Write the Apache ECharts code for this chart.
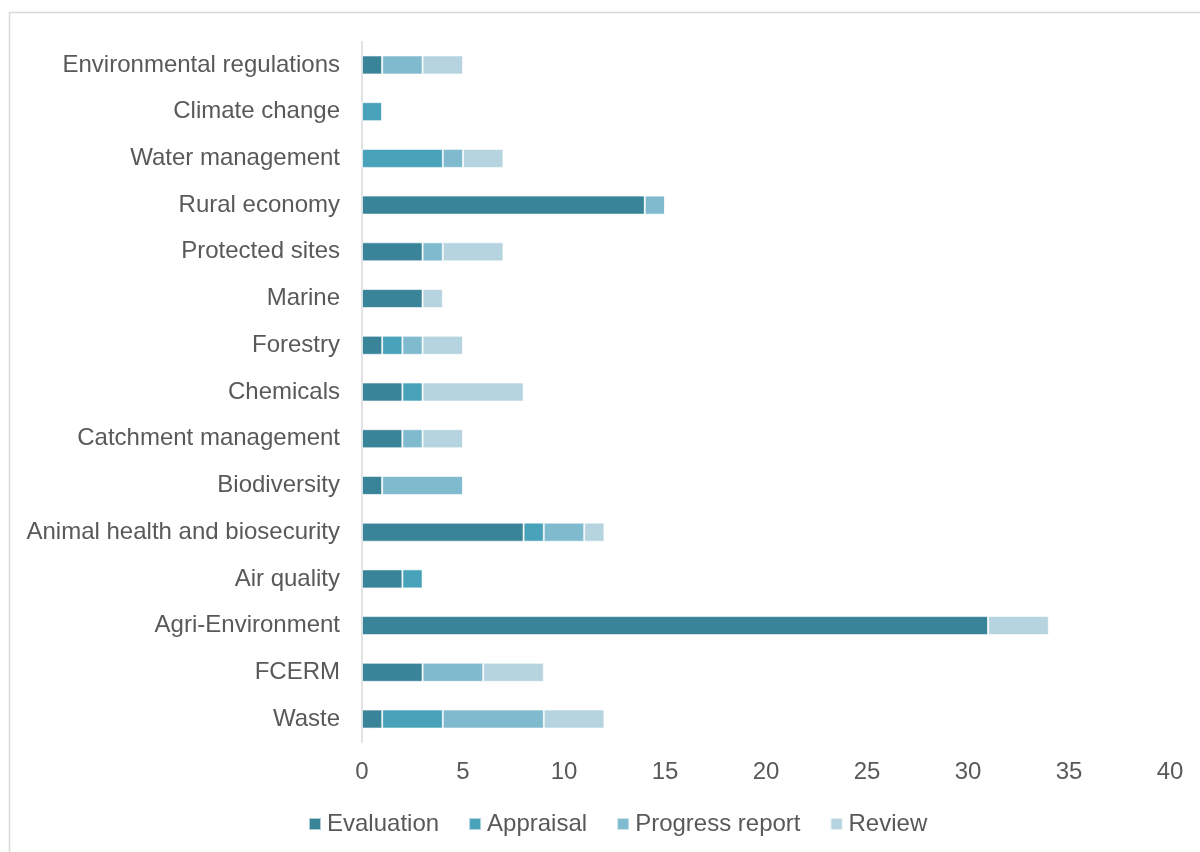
<!DOCTYPE html>
<html>
<head>
<meta charset="utf-8">
<script src="https://cdn.jsdelivr.net/npm/echarts@6/dist/echarts.min.js"></script>
<style>html,body{margin:0;padding:0;background:#fff}#c{width:1200px;height:852px}</style>
</head>
<body>
<div id="c"></div>
<script>
const categories = ["Waste","FCERM","Agri-Environment","Air quality","Animal health and biosecurity","Biodiversity","Catchment management","Chemicals","Forestry","Marine","Protected sites","Rural economy","Water management","Climate change","Environmental regulations"];
const evaluation = [1,3,31,2,8,1,2,2,1,3,3,14,0,0,1];
const appraisal  = [3,0,0,1,1,0,0,1,1,0,0,0,4,1,0];
const progress   = [5,3,0,0,2,4,1,0,1,0,1,1,1,0,2];
const review     = [3,3,3,0,1,0,2,5,2,1,3,0,2,0,2];
const xTicks = [0,5,10,15,20,25,30,35,40];
const seriesNames = ["Evaluation","Appraisal","Progress report","Review"];
const colors = ["#3A8499","#48A2BA","#7FBACF","#B6D4DF"];
const values = [evaluation, appraisal, progress, review];

const chart = echarts.init(document.getElementById('c'), null, {renderer:'canvas'});
const font = "'Liberation Sans', Arial, sans-serif";
chart.setOption({
  animation:false,
  backgroundColor:'#fff',
  color: colors,
  graphic:[{type:'rect', shape:{x:9.5,y:12.5,width:1400,height:1000}, style:{fill:'none',stroke:'#d9d9d9',lineWidth:1.5}, silent:true, z:-1}],
  grid:{left:362,right:30,top:41.6,bottom:109.6,containLabel:false},
  xAxis:{type:'value',min:xTicks[0],max:xTicks[xTicks.length-1],interval:5,
    splitLine:{show:false},axisLine:{show:false},axisTick:{show:false},
    axisLabel:{color:'#595959',fontSize:24,fontFamily:font,margin:18}},
  yAxis:{type:'category',data:categories,
    axisLine:{show:true,lineStyle:{color:'#d9d9d9',width:1.5}},axisTick:{show:false},
    axisLabel:{color:'#595959',fontSize:24,fontFamily:font,margin:22}},
  legend:{data:seriesNames,left:303,top:807,itemWidth:12,itemHeight:12,itemGap:29,icon:'rect',
    textStyle:{color:'#595959',fontSize:24,fontFamily:font,padding:[0,0,0,1]}},
  series: seriesNames.map((n,i)=>({name:n,type:'bar',stack:'t',data:values[i],barWidth:19,
    itemStyle:{color:colors[i],borderColor:'rgba(255,255,255,0.6)',borderWidth:1}}))
});
</script>
</body>
</html>
